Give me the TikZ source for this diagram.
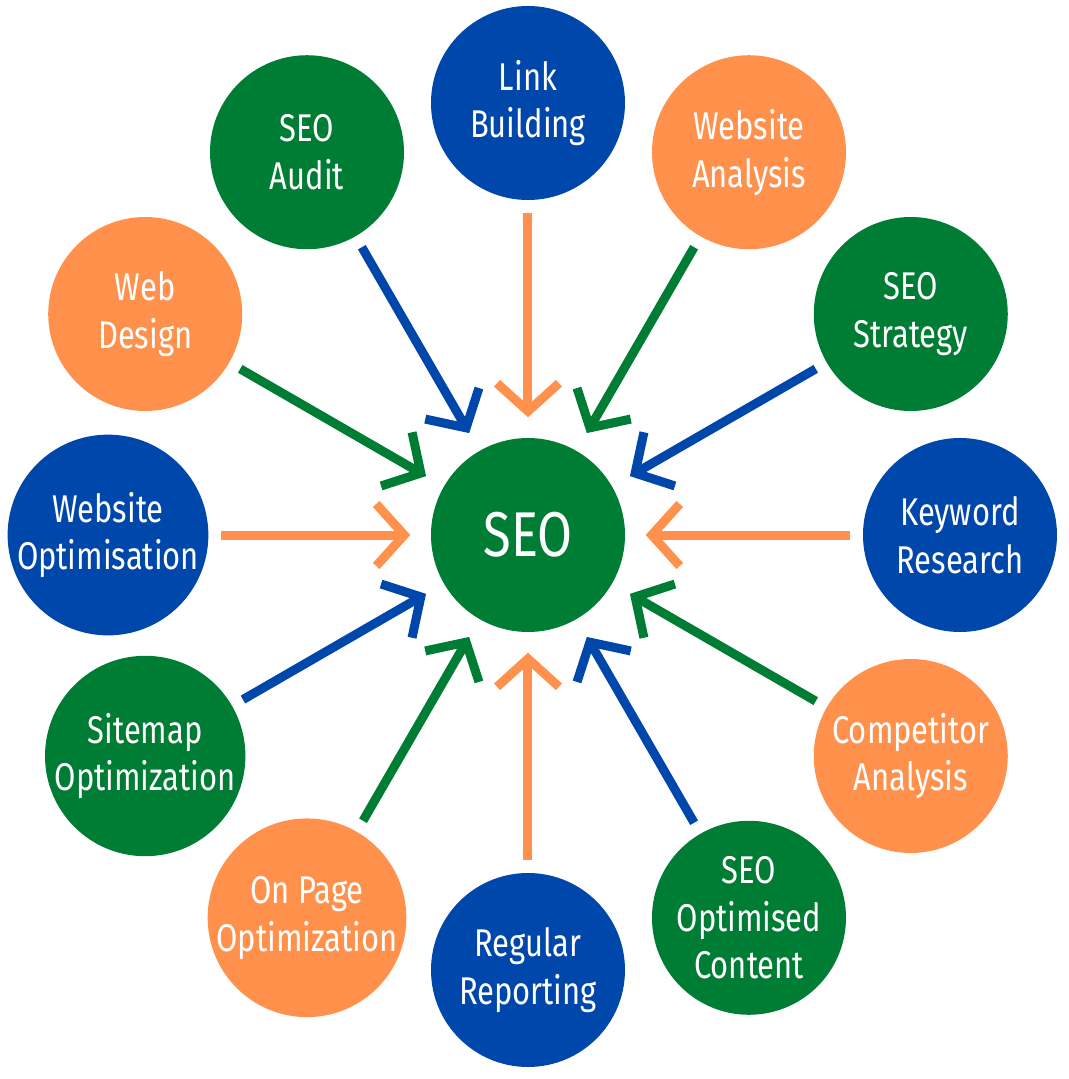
\documentclass[tikz,border=0pt]{standalone}
\usepackage{fontspec}
\setmainfont{Fira Sans}[FakeStretch=0.8]
\usetikzlibrary{arrows.meta}
\definecolor{seoblue}{RGB}{0,71,171}
\definecolor{seogreen}{RGB}{0,125,52}
\definecolor{seoorange}{RGB}{255,145,77}
\tikzset{
  topic/.style={circle, minimum size=1.94cm, inner sep=0pt, text=white, align=center, font=\fontsize{11}{13.6}\selectfont},
  feed/.style={line width=0.09cm, shorten <=0.12cm, shorten >=0.2cm, -{Straight Barb[length=0.28cm, width=0.62cm]}}
}
\begin{document}
\begin{tikzpicture}[x=1cm,y=1cm]
	\useasboundingbox (-5.28,-5.44) rectangle (5.41,5.35);

	% centre
	\node[topic, fill=seogreen, font=\fontsize{18}{22}\selectfont] (seo) at (0,0) {SEO};

	% topics round the centre
	\foreach \ang/\rad/\txt/\fc/\ac [count=\i] in {
		90/4.32/{Link\\Building}/seoblue/seoorange,
		60/4.42/{Website\\Analysis}/seoorange/seogreen,
		30/4.42/{SEO\\Strategy}/seogreen/seoblue,
		0/4.32/{Keyword\\Research}/seoblue/seoorange,
		-30/4.42/{Competitor\\Analysis}/seoorange/seogreen,
		-60/4.42/{SEO\\Optimised\\Content}/seogreen/seoblue,
		-90/4.35/{Regular\\Reporting}/seoblue/seoorange,
		-120/4.42/{On Page\\Optimization}/seoorange/seogreen,
		-150/4.42/{Sitemap\\Optimization}/seogreen/seoblue,
		180/4.2/{Website\\Optimisation}/seoblue/seoorange,
		150/4.42/{Web\\Design}/seoorange/seogreen,
		120/4.42/{SEO\\Audit}/seogreen/seoblue}
	{
		\node[topic, fill=\fc] (t\i) at (\ang:\rad) {\txt};
		\draw[feed, draw=\ac] (t\i) -- (seo);
	}

\end{tikzpicture}
\end{document}
